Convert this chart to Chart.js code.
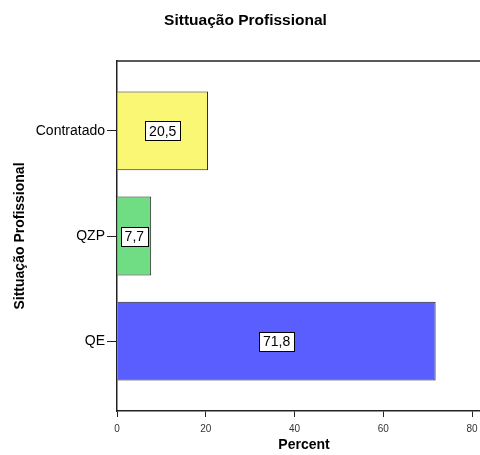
<!DOCTYPE html>
<html>
<head>
<meta charset="utf-8">
<script src="https://cdn.jsdelivr.net/npm/chart.js@4/dist/chart.umd.min.js"></script>
<style>
  html, body { margin: 0; padding: 0; background: #fff; overflow: hidden; }
  #wrap { width: 501px; height: 455px; }
</style>
</head>
<body>
<div id="wrap"><canvas id="chart"></canvas></div>
<script>
var categories = ["Contratado", "QZP", "QE"];
var percents = [20.5, 7.7, 71.8];
var barColors = ["#f9f774", "#70dd85", "#5a5eff"];
var xTicks = [0, 20, 40, 60, 80];

var fontFamily = "'Liberation Sans', Arial, sans-serif";

// top border of the plot frame
var frameTop = {
  id: "frameTop",
  afterDraw: function (chart) {
    var a = chart.chartArea;
    var ctx = chart.ctx;
    ctx.save();
    ctx.strokeStyle = "#222";
    ctx.lineWidth = 1.5;
    ctx.beginPath();
    ctx.moveTo(a.left, a.top);
    ctx.lineTo(a.right, a.top);
    ctx.stroke();
    ctx.restore();
  }
};

// boxed value labels in the middle of each bar
var valueBoxes = {
  id: "valueBoxes",
  afterDatasetsDraw: function (chart) {
    var ctx = chart.ctx;
    var meta = chart.getDatasetMeta(0);
    ctx.save();
    ctx.font = "14px " + fontFamily;
    ctx.textAlign = "center";
    ctx.textBaseline = "middle";
    meta.data.forEach(function (bar, i) {
      var p = bar.getProps(["x", "y", "base"], true);
      var cx = (p.x + p.base) / 2;
      var txt = percents[i].toFixed(1).replace(".", ",");
      var w = Math.round(ctx.measureText(txt).width + 8);
      var h = 19;
      var bx = Math.round(cx - w / 2) + 0.5;
      var by = Math.round(p.y - h / 2) + 0.5;
      ctx.fillStyle = "#fff";
      ctx.fillRect(bx, by, w, h);
      ctx.strokeStyle = "#000";
      ctx.lineWidth = 1;
      ctx.strokeRect(bx, by, w, h);
      ctx.fillStyle = "#000";
      ctx.fillText(txt, cx, p.y + 1);
    });
    ctx.restore();
  }
};

var points = [];
for (var i = 0; i < categories.length; i++) {
  points.push({ x: percents[i], y: i });
}

new Chart(document.getElementById("chart"), {
  type: "bar",
  data: {
    datasets: [{
      data: points,
      backgroundColor: barColors,
      borderColor: "#222",
      borderWidth: 1,
      categoryPercentage: 1,
      barPercentage: 0.75
    }]
  },
  options: {
    indexAxis: "y",
    responsive: true,
    maintainAspectRatio: false,
    animation: false,
    events: [],
    layout: { padding: { right: 10 } },
    plugins: {
      legend: { display: false },
      tooltip: { enabled: false },
      title: {
        display: true,
        text: "Sittuação Profissional",
        color: "#000",
        font: { family: fontFamily, size: 15.5, weight: "bold" },
        padding: { top: 11, bottom: 31.4 }
      }
    },
    scales: {
      x: {
        type: "linear",
        min: 0,
        max: 84.28,
        offset: false,
        afterBuildTicks: function (scale) {
          scale.ticks = xTicks.map(function (v) { return { value: v }; });
        },
        afterFit: function (scale) { scale.height = 44; },
        grid: { offset: false, drawOnChartArea: false, drawTicks: true, tickLength: 6, tickColor: "#222", tickWidth: 1 },
        border: { color: "#222", width: 1.5 },
        ticks: { color: "#333", padding: 6, maxRotation: 0, font: { family: fontFamily, size: 10 } },
        title: {
          display: true,
          text: "Percent",
          color: "#000",
          font: { family: fontFamily, size: 14, weight: "bold" },
          padding: { top: 0, bottom: 1 }
        }
      },
      y: {
        type: "linear",
        reverse: true,
        min: -0.664,
        max: 2.664,
        offset: false,
        afterBuildTicks: function (scale) {
          scale.ticks = categories.map(function (c, i) { return { value: i }; });
        },
        afterFit: function (scale) { scale.width = 117; },
        grid: { offset: false, drawOnChartArea: false, drawTicks: true, tickLength: 10, tickColor: "#222", tickWidth: 1 },
        border: { color: "#222", width: 1.5 },
        ticks: {
          color: "#000",
          padding: 2,
          font: { family: fontFamily, size: 14 },
          callback: function (v) { return categories[v]; }
        },
        title: {
          display: true,
          text: "Sittuação Profissional",
          color: "#000",
          font: { family: fontFamily, size: 14, weight: "bold" },
          padding: { top: 12, bottom: 0 }
        }
      }
    }
  },
  plugins: [frameTop, valueBoxes]
});
</script>
</body>
</html>
